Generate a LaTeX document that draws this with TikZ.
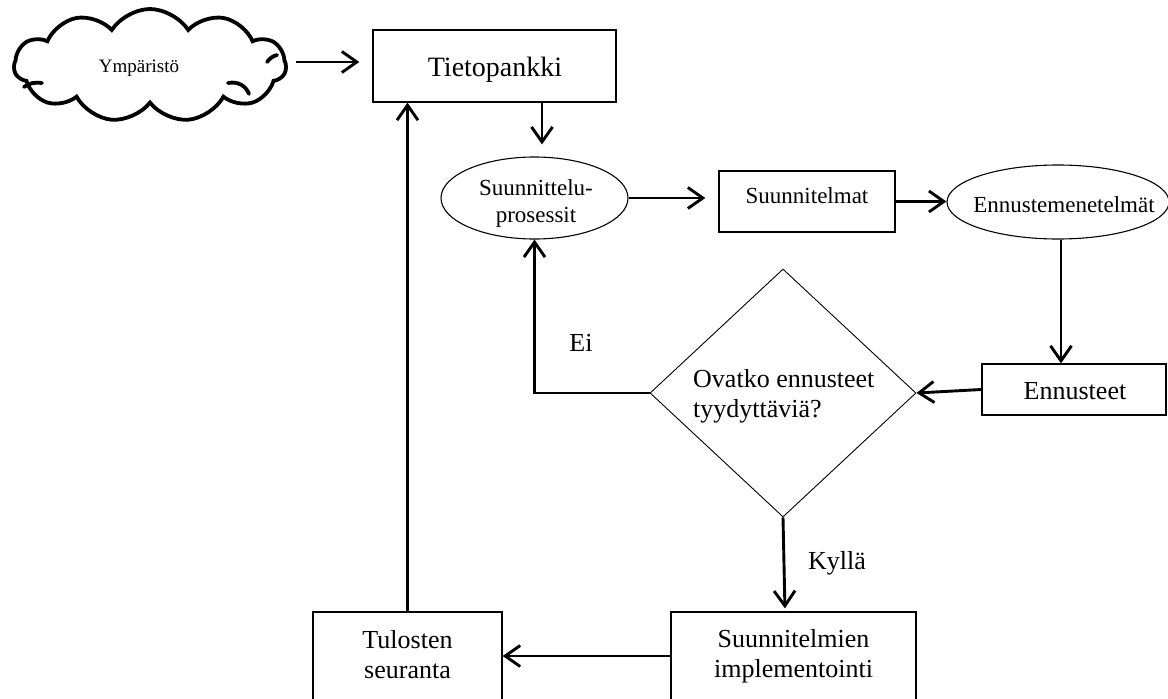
\documentclass[tikz,border=0pt]{standalone}
\usepackage{fontspec}
\setmainfont{Liberation Serif}
\usetikzlibrary{arrows.meta,shapes.geometric,shapes.symbols}

\tikzset{
  boxshape/.style={draw, line width=1.3pt, rectangle, inner sep=0pt},
  ovalshape/.style={draw, line width=1.1pt, ellipse, inner sep=0pt},
  lbl/.style={inner sep=0pt, align=center},
  txtL/.style={lbl, font=\fontsize{28}{32}\selectfont},
  txtM/.style={lbl, font=\fontsize{26}{30}\selectfont},
  txtS/.style={lbl, font=\fontsize{23}{27}\selectfont},
  txtXS/.style={lbl, font=\fontsize{19}{22}\selectfont},
  arr/.style={line width=2.9pt, -{Straight Barb[length=15pt, width=21pt]}},
  puffline/.style={line width=3.8pt, line cap=round},
}

\begin{document}
\begin{tikzpicture}[x=1pt, y=-1pt]
\useasboundingbox (0,0) rectangle (1168,699);

% environment cloud
\node[cloud, draw, line width=3.8pt, cloud puffs=11, cloud puff arc=115,
      aspect=2.4, minimum width=272pt, minimum height=113pt, inner sep=0pt]
      (cloud) at (150,65.5) {};
\draw[puffline] (24,87) .. controls (29,83) and (35,82) .. (42,83);
\draw[puffline] (228,83) .. controls (238,81) and (246,86) .. (249,94);
\draw[puffline] (267,62) .. controls (270,58) and (273,56) .. (277,55);
\node[txtXS] (envtxt) at (139,68) {Ympäristö};

% boxes and ovals
\node[boxshape, minimum width=243pt, minimum height=72pt] (tp) at (494.5,66) {};
\node[txtL] (tptxt) at (495,70) {Tietopankki};

\node[ovalshape, minimum width=187pt, minimum height=82pt] (p1) at (534.5,198) {};
\node[txtS] (p1txt) at (536,203) {Suunnittelu-\\prosessit};

\node[boxshape, minimum width=176pt, minimum height=61pt] (plans) at (807,201.5) {};
\node[txtS] (planstxt) at (807,196) {Suunnitelmat};

\node[ovalshape, minimum width=222pt, minimum height=74pt] (methods) at (1058,202) {};
\node[txtS] (methodstxt) at (1064,205) {Ennustemenetelmät};

\node[boxshape, minimum width=184pt, minimum height=51pt] (fc) at (1074,389.5) {};
\node[txtM] (fctxt) at (1075,391) {Ennusteet};

\node[diamond, draw, line width=0.9pt, inner sep=0pt, aspect=1.07,
      minimum width=266pt, minimum height=248pt] (q) at (783,393) {};
\node[lbl, align=left, anchor=west, font=\fontsize{26}{30}\selectfont]
      (qtxt) at (693,396) {Ovatko ennusteet\\tyydyttäviä?};

\node[boxshape, minimum width=189pt, minimum height=93pt] (res) at (407.5,658.5) {};
\node[txtM] (restxt) at (407.5,655) {Tulosten\\seuranta};

\node[boxshape, minimum width=245pt, minimum height=93pt] (impl) at (793.5,658.5) {};
\node[txtM] (impltxt) at (793.5,656) {Suunnitelmien\\implementointi};

% branch labels
\node[txtM] (nolbl) at (581,343) {Ei};
\node[txtM] (yeslbl) at (837,563) {Kyllä};

% connectors
\draw[arr, shorten <=8pt, shorten >=13pt] ([yshift=3.5pt]cloud.east) -- ([yshift=3.5pt]cloud.east -| tp.west);
\draw[arr, shorten >=12pt] ([xshift=47.5pt]tp.south) -- ([xshift=47.5pt]tp.south |- p1.north);
\draw[arr, shorten >=13pt] (p1.east) -- (p1.east -| plans.west);
\draw[arr] (plans.east) -- (plans.east -| methods.west);
\draw[arr] ([xshift=3pt]methods.south) -- ([xshift=3pt]methods.south |- fc.north);
\draw[arr] (fc.west) -- (q.east);
\draw[arr] (q.west) -- (q.west -| p1.south) -- (p1.south);
\draw[arr, shorten >=3pt] (q.south) -- ([xshift=2pt]q.south |- impl.north);
\draw[arr] ([yshift=2.5pt]impl.west) -- ([yshift=2.5pt]impl.west -| res.east);
\draw[arr] (res.north) -- (res.north |- tp.south);
\end{tikzpicture}
\end{document}
